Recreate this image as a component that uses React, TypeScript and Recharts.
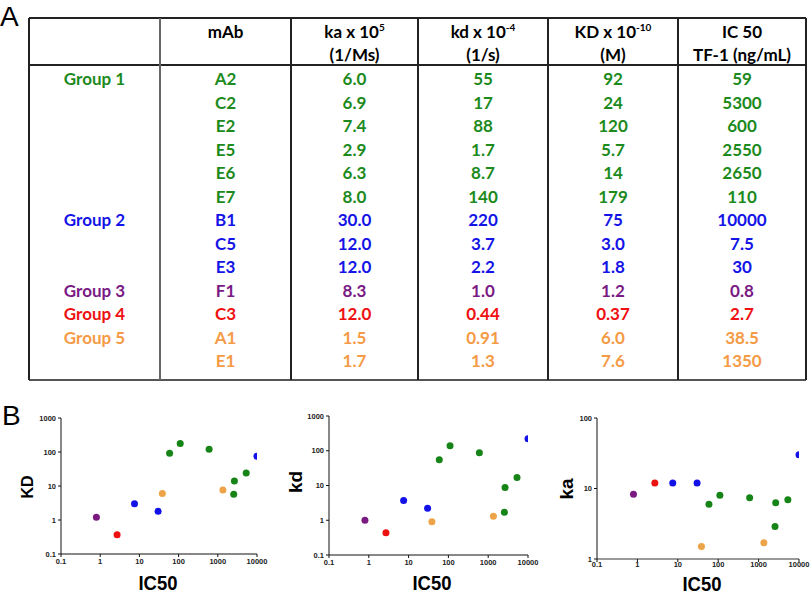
import { ScatterChart, Scatter, XAxis, YAxis } from "recharts";

// table rows
const mabs = ["A2", "C2", "E2", "E5", "E6", "E7", "B1", "C5", "E3", "F1", "C3", "A1", "E1"];
const groupOf = [0, 0, 0, 0, 0, 0, 1, 1, 1, 2, 3, 4, 4];
const kaText = ["6.0", "6.9", "7.4", "2.9", "6.3", "8.0", "30.0", "12.0", "12.0", "8.3", "12.0", "1.5", "1.7"];
const kdText = ["55", "17", "88", "1.7", "8.7", "140", "220", "3.7", "2.2", "1.0", "0.44", "0.91", "1.3"];
const KDText = ["92", "24", "120", "5.7", "14", "179", "75", "3.0", "1.8", "1.2", "0.37", "6.0", "7.6"];
const ic50Text = ["59", "5300", "600", "2550", "2650", "110", "10000", "7.5", "30", "0.8", "2.7", "38.5", "1350"];

const groupNames = ["Group 1", "Group 2", "Group 3", "Group 4", "Group 5"];
const groupFirstRow = [0, 6, 9, 10, 11];
const tableColors = ["#1c8a1c", "#1414e6", "#7a1a85", "#ee1111", "#f59a45"];
const dotColors = ["#178417", "#1212e8", "#7a1a80", "#ee1111", "#eda448"];

const icTicks = [0.1, 1, 10, 100, 1000, 10000];
const kTicks = [0.1, 1, 10, 100, 1000];
const kaTicks = [1, 10, 100];

const colX = [29, 160, 291, 418, 548, 678, 806];
const rowY = (i: number) => 79 + i * 23.5;

const font = "Lato, 'Open Sans', sans-serif";

function T({ x, y, color, children, size = 17 }: any) {
  return (
    <div
      style={{
        position: "absolute",
        left: x,
        top: y,
        transform: "translate(-50%, -50%)",
        whiteSpace: "nowrap",
        color,
        fontSize: size,
        fontWeight: 700,
        fontFamily: font,
        lineHeight: 1.1,
      }}
    >
      {children}
    </div>
  );
}

function Sup({ children }: any) {
  return <span style={{ fontSize: 10, position: "relative", top: -7 }}>{children}</span>;
}

function VLine({ x, y1, y2, w = 1, c = "#222" }: any) {
  return <div style={{ position: "absolute", left: x - w / 2, top: y1, width: w, height: y2 - y1, background: c }} />;
}
function HLine({ y, x1, x2, w = 1, c = "#222" }: any) {
  return <div style={{ position: "absolute", left: x1, top: y - w / 2, width: x2 - x1, height: w, background: c }} />;
}

function Table() {
  const colCenter = (c: number) => (colX[c] + colX[c + 1]) / 2;
  const cols = [mabs, kaText, kdText, KDText, ic50Text];
  return (
    <>
      <HLine y={18} x1={29} x2={806} w={1.5} />
      <HLine y={65} x1={29} x2={806} w={1.2} />
      <HLine y={380} x1={29} x2={806} w={2} c="#555" />
      <VLine x={29} y1={18} y2={380} w={1.5} />
      <VLine x={806} y1={18} y2={380} w={1.5} />
      <VLine x={160} y1={18} y2={380} w={2} c="#666" />
      {colX.slice(2, 6).map((x) => (
        <VLine key={x} x={x} y1={18} y2={380} w={1.2} />
      ))}
      <T x={colCenter(1)} y={32} color="#000">mAb</T>
      <T x={colCenter(2)} y={32} color="#000">ka x 10<Sup>5</Sup></T>
      <T x={colCenter(2)} y={55} color="#000">(1/Ms)</T>
      <T x={colCenter(3)} y={32} color="#000">kd x 10<Sup>-4</Sup></T>
      <T x={colCenter(3)} y={55} color="#000">(1/s)</T>
      <T x={colCenter(4)} y={32} color="#000">KD x 10<Sup>-10</Sup></T>
      <T x={colCenter(4)} y={55} color="#000">(M)</T>
      <T x={colCenter(5)} y={32} color="#000">IC 50</T>
      <T x={colCenter(5)} y={55} color="#000">TF-1 (ng/mL)</T>
      {groupNames.map((g, i) => (
        <T key={g} x={colCenter(0)} y={rowY(groupFirstRow[i])} color={tableColors[i]}>{g}</T>
      ))}
      {cols.map((col, c) =>
        col.map((v, r) => (
          <T key={c + "-" + r} x={colCenter(c + 1)} y={rowY(r)} color={tableColors[groupOf[r]]}>{v}</T>
        ))
      )}
    </>
  );
}

const points = mabs.map((m, i) => ({
  mab: m,
  group: groupOf[i],
  ic50: parseFloat(ic50Text[i]),
  ka: parseFloat(kaText[i]),
  kd: parseFloat(kdText[i]),
  KD: parseFloat(KDText[i]),
}));

const fmt = (v: number) => String(v);

function Plot({ plotLeft, plotRight, plotTop, plotBottom, yKey, yTicks, xAxisColor = "#111", xAxisWidth = 1, xTickMargin = 2 }: any) {
  const top = 405;
  const yw = 45;
  const rm = 14;
  const xh = 16;
  const width = plotRight - plotLeft + yw + rm;
  const height = plotBottom - top + xh;
  const tickStyle = { fontSize: 7.5, fontWeight: 700, fill: "#222", fontFamily: "'Liberation Sans', Arial, sans-serif" };
  return (
    <div style={{ position: "absolute", left: plotLeft - yw, top }}>
      <ScatterChart width={width} height={height} margin={{ top: plotTop - top, right: rm, left: 0, bottom: 0 }}>
        <XAxis
          type="number"
          dataKey="ic50"
          scale="log"
          domain={[0.1, 10000]}
          ticks={icTicks}
          tickFormatter={fmt}
          allowDataOverflow
          height={xh}
          tick={tickStyle}
          tickSize={3}
          tickMargin={xTickMargin}
          stroke={xAxisColor}
          axisLine={{ stroke: xAxisColor, strokeWidth: xAxisWidth }}
          tickLine={{ stroke: "#111" }}
          interval={0}
        />
        <YAxis
          type="number"
          dataKey={yKey}
          scale="log"
          domain={[yTicks[0], yTicks[yTicks.length - 1]]}
          ticks={yTicks}
          tickFormatter={fmt}
          allowDataOverflow
          width={yw}
          tick={tickStyle}
          tickSize={3}
          tickMargin={2}
          stroke="#111"
          interval={0}
        />
        {groupNames.map((g, gi) => (
          <Scatter
            key={g}
            name={g}
            data={points.filter((p) => p.group === gi)}
            fill={dotColors[gi]}
            isAnimationActive={false}
            shape={(p: any) => <circle cx={p.cx} cy={p.cy} r={3.5} fill={dotColors[gi]} />}
          />
        ))}
      </ScatterChart>
    </div>
  );
}

function AxisLabel({ x, y, text, rotate = false, size = 22 }: any) {
  return (
    <div
      style={{
        position: "absolute",
        left: x,
        top: y,
        transform: `translate(-50%, -50%)${rotate ? " rotate(-90deg)" : " scaleX(0.88)"}`,
        fontFamily: "'Liberation Sans', Arial, sans-serif",
        fontWeight: 700,
        fontSize: size,
        lineHeight: 1,
        whiteSpace: "nowrap",
        color: "#000",
      }}
    >
      {text}
    </div>
  );
}

export default function App() {
  return (
    <div style={{ position: "absolute", left: 0, top: 0, width: 810, height: 593, background: "#fff", overflow: "hidden" }}>
      <div style={{ position: "absolute", left: 0, top: 3, fontSize: 28, fontFamily: "'Liberation Sans', Arial, sans-serif", lineHeight: 1 }}>A</div>
      <div style={{ position: "absolute", left: 2, top: 402, fontSize: 28, fontFamily: "'Liberation Sans', Arial, sans-serif", lineHeight: 1 }}>B</div>
      <Table />
      <Plot plotLeft={61} plotRight={257} plotTop={418} plotBottom={554} yKey="KD" yTicks={kTicks} />
      <Plot plotLeft={329} plotRight={528} plotTop={416} plotBottom={555} yKey="kd" yTicks={kTicks} />
      <Plot plotLeft={597} plotRight={799} plotTop={418} plotBottom={559} yKey="ka" yTicks={kaTicks} xAxisColor="#999" xAxisWidth={2} xTickMargin={0} />
      <AxisLabel x={28} y={487} text="KD" rotate size={16} />
      <AxisLabel x={295} y={482} text="kd" rotate size={19} />
      <AxisLabel x={566} y={489} text="ka" rotate size={19} />
      <AxisLabel x={158} y={582} text="IC50" size={21} />
      <AxisLabel x={432} y={582} text="IC50" size={21} />
      <AxisLabel x={702} y={583} text="IC50" size={21} />
    </div>
  );
}
